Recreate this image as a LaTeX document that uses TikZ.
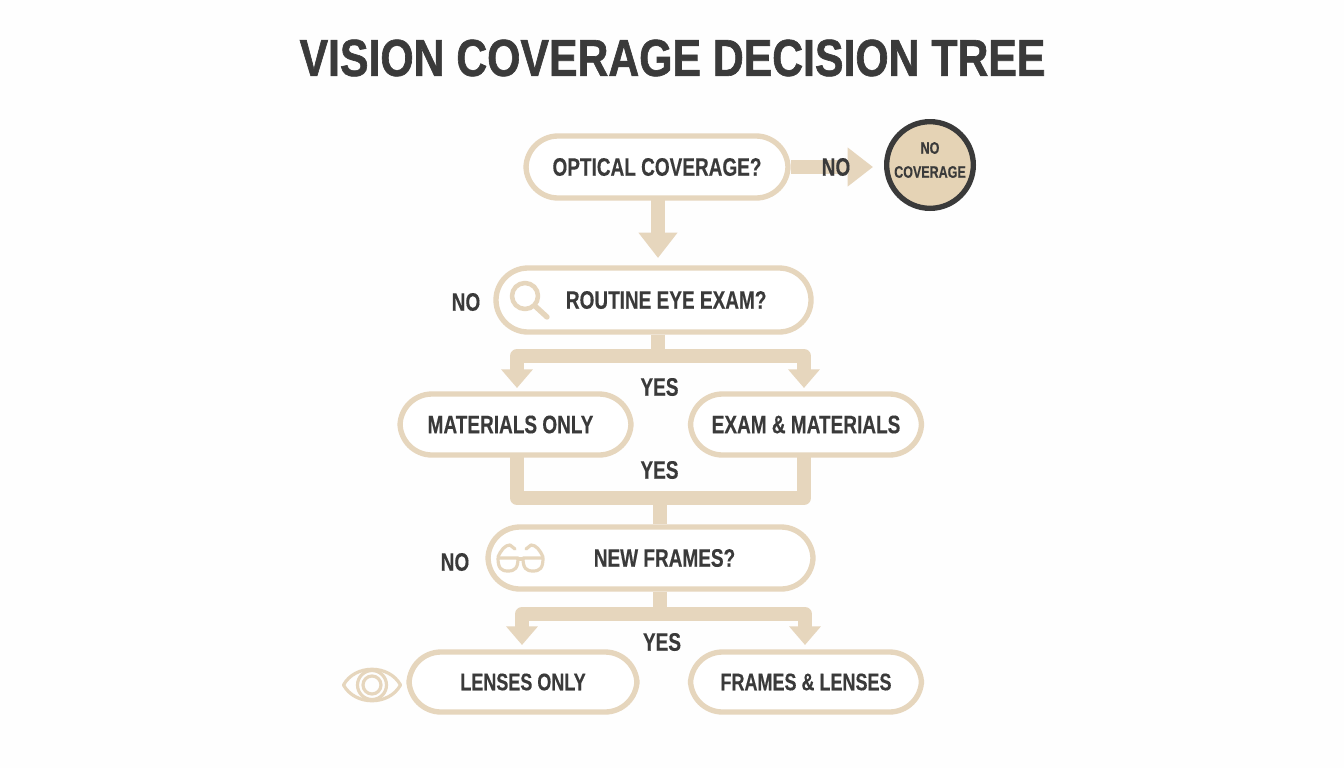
\documentclass[tikz,border=0pt]{standalone}
\usepackage{fontspec}
\setmainfont{Liberation Sans}
\newfontfamily\boxfont[FakeStretch=0.75,FakeBold=0.3]{Liberation Sans}
\newfontfamily\titlefont[FakeStretch=0.822,FakeBold=1.2]{Liberation Sans}
\usetikzlibrary{arrows.meta}
\definecolor{tan}{HTML}{E6D6BD}
\definecolor{tanfill}{HTML}{E5D3B5}
\definecolor{ink}{HTML}{3A3A3A}
\tikzset{
	pill/.style={draw=tan, line width=4pt, fill=white, rounded corners=24pt, inner sep=0pt, anchor=center},
	boxtext/.style={text=ink, font=\boxfont\fontsize{19}{19}\selectfont\bfseries},
	smalltext/.style={text=ink, font=\boxfont\fontsize{18}{18}\selectfont\bfseries},
	flowline/.style={draw=tan, line width=10.5pt, line join=round},
	flowarrow/.style={flowline, -{Triangle[width=23pt,length=14pt]}, shorten >=3pt},
	bigarrow/.style={flowline, -{Triangle[width=28pt,length=19pt]}},
	icon/.style={draw=tan, line width=2.4pt, line cap=round, line join=round},
}
\newcommand{\pillnode}[7][boxtext]{\node[pill, #1, minimum width=#5*0.75pt, minimum height=#6*0.75pt] (#2) at (#3,#4) {#7};}

\begin{document}
\begin{tikzpicture}[x=0.75pt,y=-0.75pt]
	%%%%% START %%%%%
	\fill[white!98!tan] (0,0) rectangle (1344,768);

	\node[text=ink, font=\titlefont\fontsize{39}{39}\selectfont\bfseries] (title) at (672.5,58) {VISION COVERAGE DECISION TREE};

	\pillnode{optical}{657}{167}{262}{62}{OPTICAL COVERAGE?}
	\pillnode{routine}{653.5}{300}{315}{64}{\hspace*{19pt}ROUTINE EYE EXAM?}
	\pillnode{materials}{515.5}{424.5}{231}{61}{\hspace*{-7.5pt}MATERIALS ONLY}
	\pillnode{exam}{806}{424.5}{231}{61}{EXAM \& MATERIALS}
	\pillnode{frames}{650.5}{558}{325}{62}{\hspace*{21pt}NEW FRAMES?}
	\pillnode[smalltext]{lenses}{523}{682}{228}{60}{LENSES ONLY}
	\pillnode[smalltext]{both}{806}{682}{231}{60}{FRAMES \& LENSES}

	\node[circle, draw=ink, fill=tanfill, line width=4pt, minimum size=65pt, inner sep=0pt] (none) at (930,165) {};
	\node[align=center, text=ink, font=\boxfont\fontsize{12.5}{18}\selectfont\bfseries] (nonetext) at (930,160) {NO\\COVERAGE};

	% joins between the boxes
	\coordinate (routinejoin) at (658,356);
	\coordinate (examjoin) at (660,498);
	\coordinate (framesjoin) at (660,614);
	\coordinate (optout) at (658,200);

	\draw[bigarrow] (optout) -- (658,258);
	\draw[bigarrow] (optical.east |- 0,167) -- (873,167);

	\draw[flowline] (routinejoin |- routine.south) -- (routinejoin);
	\draw[flowarrow] (routinejoin) -| (517,392);
	\draw[flowarrow] (routinejoin) -| (804,392);

	\draw[flowline] (517,457) |- (examjoin) -| (804,457);
	\draw[flowline] (examjoin) -- (examjoin |- frames.north);

	\draw[flowline] (framesjoin |- frames.south) -- (framesjoin);
	\draw[flowarrow] (framesjoin) -| (522,649);
	\draw[flowarrow] (framesjoin) -| (805,649);

	% labels
	\node[boxtext] (no1) at (836,167) {NO};
	\node[boxtext] (no2) at (466,302) {NO};
	\node[boxtext] (no3) at (455,562) {NO};
	\node[boxtext] (yes1) at (659.5,387) {YES};
	\node[boxtext] (yes2) at (659.5,470) {YES};
	\node[boxtext] (yes3) at (662,642) {YES};

	% magnifier
	\draw[icon, line width=3.4pt] (525,296) circle (13);
	\draw[icon, line width=4pt] (535,306) -- (547,317);

	% glasses
	\draw[icon] (498,558) -- (518,558) .. controls (518,568) and (515,571) .. (508,571) .. controls (501,571) and (498,568) .. (498,558);
	\draw[icon] (523,558) -- (543,558) .. controls (543,568) and (540,571) .. (533,571) .. controls (526,571) and (523,568) .. (523,558);
	\draw[icon] (518,559) -- (523,559);
	\draw[icon] (498,557) .. controls (501,550) and (505,545) .. (510,545) -- (515,549);
	\draw[icon] (543,557) .. controls (540,550) and (536,545) .. (531,545) -- (526,549);

	% eye
	\draw[icon] (343.5,685) .. controls (355,664) and (389,664) .. (400.5,685) .. controls (389,706) and (355,706) .. (343.5,685) -- cycle;
	\draw[icon] (372,685) circle (14.5);
	\draw[icon] (372,685) circle (9);
	%%%%% END %%%%%
\end{tikzpicture}
\end{document}
